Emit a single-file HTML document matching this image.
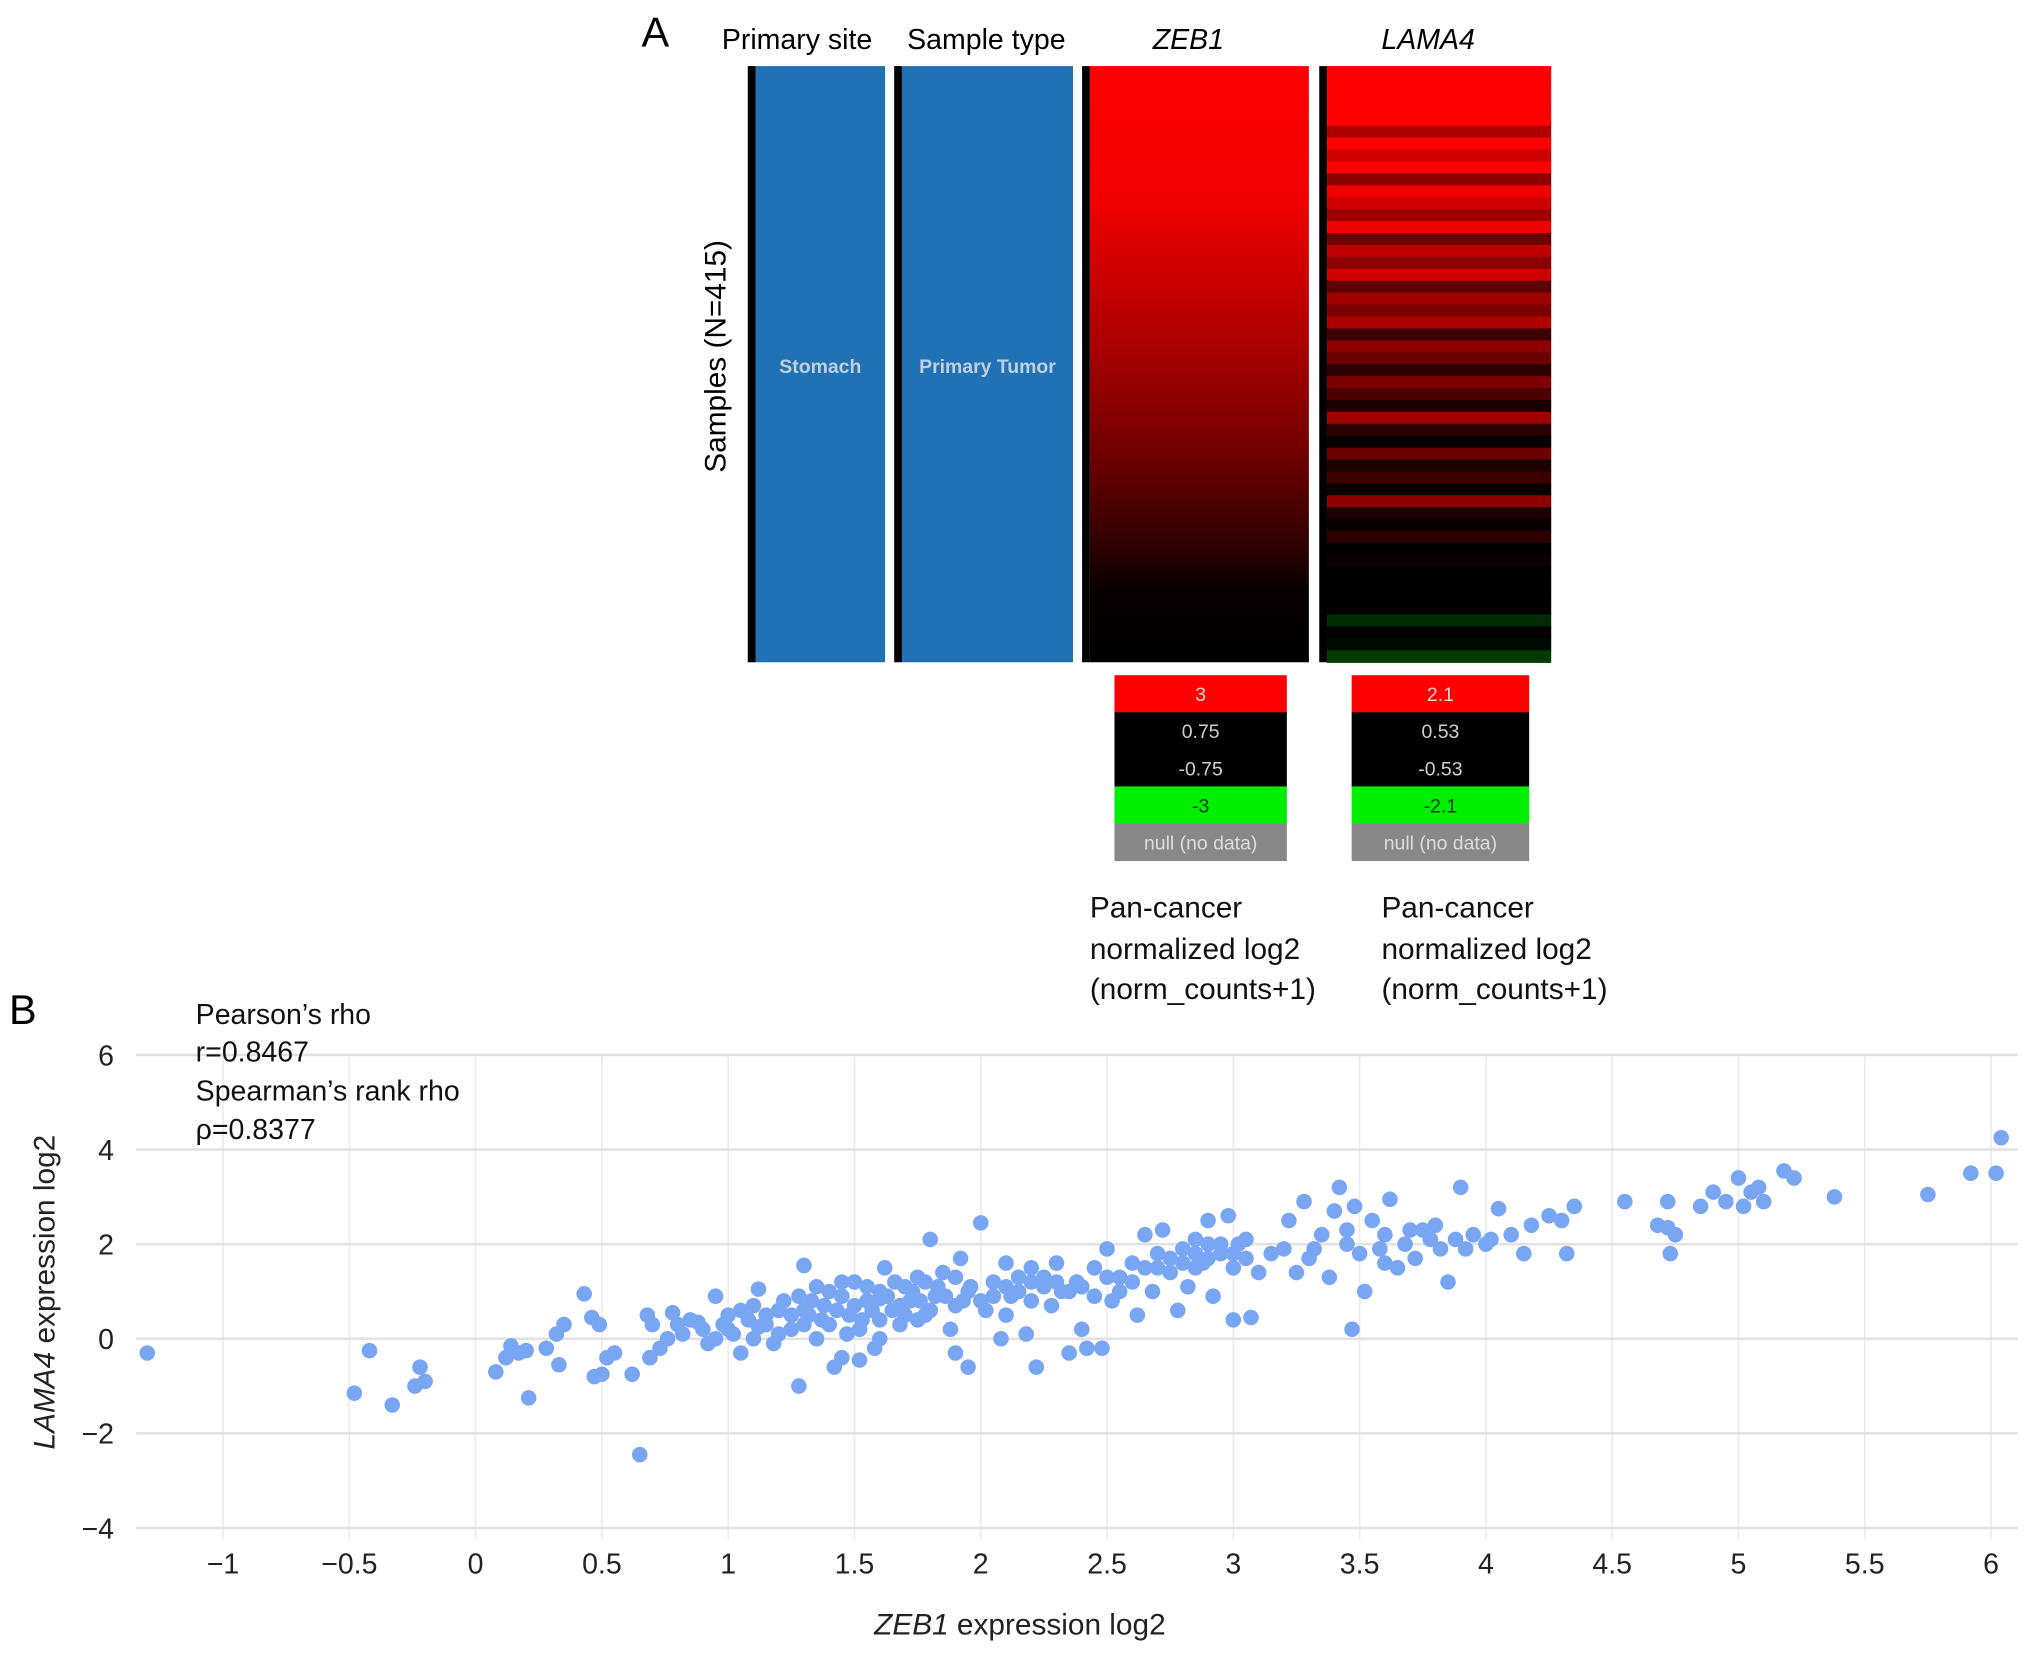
<!DOCTYPE html>
<html><head><meta charset="utf-8"><style>
html,body{margin:0;padding:0;background:#fff;}
svg{display:block;font-family:"Liberation Sans",Arial,sans-serif;}
</style></head><body>
<svg id="fig" width="2032" height="1655" viewBox="0 0 1568 1277" preserveAspectRatio="none" xmlns="http://www.w3.org/2000/svg">
<defs>
<linearGradient id="zebGrad" x1="0" y1="0" x2="0" y2="1">
<stop offset="0" stop-color="#ff0000"/><stop offset="0.22" stop-color="#f20000"/>
<stop offset="0.45" stop-color="#b00000"/><stop offset="0.65" stop-color="#700000"/>
<stop offset="0.8" stop-color="#300000"/><stop offset="0.88" stop-color="#080000"/><stop offset="1" stop-color="#000"/>
</linearGradient>
</defs>
<text x="495" y="36" font-size="32">A</text>
<text x="557" y="38" font-size="22">Primary site</text>
<text x="700" y="38" font-size="22">Sample type</text>
<text x="917" y="38" font-size="22" font-style="italic" text-anchor="middle">ZEB1</text>
<text x="1102" y="38" font-size="22" font-style="italic" text-anchor="middle">LAMA4</text>
<text transform="translate(560,275) rotate(-90)" font-size="23" text-anchor="middle">Samples (N=415)</text>
<g>
<rect x="577" y="51" width="6" height="460" fill="#000"/>
<rect x="583" y="51" width="100" height="460" fill="#2171b5"/>
<text x="633" y="288" font-size="15" font-weight="bold" fill="#c0cfe0" text-anchor="middle">Stomach</text>
</g>
<g>
<rect x="690" y="51" width="6" height="460" fill="#000"/>
<rect x="696" y="51" width="132" height="460" fill="#2171b5"/>
<text x="762" y="288" font-size="15" font-weight="bold" fill="#c0cfe0" text-anchor="middle">Primary Tumor</text>
</g>
<g>
<rect x="835" y="51" width="6" height="460" fill="#000"/>
<rect x="841" y="51" width="169" height="460" fill="url(#zebGrad)"/>
</g>
<g id="lama4">
<rect x="1018" y="51" width="6" height="460" fill="#000"/>
</g>
<g id="leg1"></g>
<g id="leg2"></g>
<text font-size="23" fill="#111"><tspan x="841" y="708">Pan-cancer</tspan><tspan x="841" y="740">normalized log2</tspan><tspan x="841" y="771">(norm_counts+1)</tspan></text>
<text font-size="23" fill="#111"><tspan x="1066" y="708">Pan-cancer</tspan><tspan x="1066" y="740">normalized log2</tspan><tspan x="1066" y="771">(norm_counts+1)</tspan></text>

<text x="7" y="790" font-size="32">B</text>
<g id="grid"></g>
<g id="pts"></g>
<g font-size="22" fill="#111">
<text x="151" y="790">Pearson’s rho</text>
<text x="151" y="819">r=0.8467</text>
<text x="151" y="849">Spearman’s rank rho</text>
<text x="151" y="879">ρ=0.8377</text>
</g>
<text x="787" y="1261" font-size="23" text-anchor="middle" fill="#222"><tspan font-style="italic">ZEB1</tspan> expression log2</text>
<text transform="translate(42,997) rotate(-90)" font-size="23" text-anchor="middle" fill="#222"><tspan font-style="italic">LAMA4</tspan> expression log2</text>
</svg>
<script>
const NS="http://www.w3.org/2000/svg";
const lamaRows=[2.1,2.1,2.1,2.1,2.1,1.6,2.1,1.8,2.1,1.4,2.0,1.8,1.5,2.0,1.2,1.7,1.4,1.8,1.1,1.5,1.3,1.6,0.9,1.4,1.2,0.8,1.3,1.0,0.7,1.5,0.8,0.6,1.2,0.7,0.9,0.6,1.4,0.7,0.6,0.8,0.5,0.6,0.5,0.4,0.3,0.2,-0.8,0.1,-0.6,-0.9];
const legend1Labels=["3","0.75","-0.75","-3","null (no data)"];
const legend2Labels=["2.1","0.53","-0.53","-2.1","null (no data)"];
const xTicks=[-1,-0.5,0,0.5,1,1.5,2,2.5,3,3.5,4,4.5,5,5.5,6];
const yTicks=[-4,-2,0,2,4,6];
const xVals=[-1.3,-0.48,-0.42,-0.33,-0.24,-0.22,-0.2,0.08,0.12,0.14,0.17,0.2,0.21,0.28,0.32,0.33,0.35,0.43,0.46,0.47,0.49,0.5,0.52,0.55,0.62,0.65,0.68,0.69,0.7,0.73,0.76,0.78,0.8,0.82,0.85,0.9,0.92,0.95,0.98,1.0,1.02,1.05,1.08,1.1,1.1,1.12,1.15,1.18,1.2,1.22,1.25,1.28,1.28,1.3,1.32,1.35,1.35,1.38,1.4,1.42,1.45,1.45,1.48,1.5,1.52,1.55,1.58,1.6,1.62,1.65,1.68,1.7,1.72,1.75,1.78,1.8,1.82,1.85,1.88,1.9,1.9,1.92,1.95,1.95,2.0,2.02,2.05,2.08,2.1,2.12,2.15,2.18,2.2,2.22,2.25,2.28,2.3,2.32,2.35,2.38,2.4,2.42,2.45,2.48,2.5,2.52,2.55,2.6,2.62,2.65,2.68,2.7,2.72,2.75,2.78,2.8,2.82,2.85,2.88,2.9,2.92,2.95,2.98,3.0,3.0,3.02,3.05,3.07,3.1,3.15,3.2,3.22,3.25,3.28,3.32,3.35,3.38,3.4,3.42,3.45,3.47,3.48,3.5,3.52,3.55,3.58,3.6,3.62,3.65,3.68,3.72,3.75,3.78,3.8,3.82,3.85,3.88,3.9,3.92,3.95,4.0,4.02,4.05,4.1,4.15,4.18,4.25,4.3,4.32,4.35,4.55,4.68,4.72,4.73,4.75,4.72,4.85,4.9,4.95,5.0,5.02,5.05,5.08,5.1,5.18,5.22,5.38,5.75,5.92,6.02,6.04,
1.0,1.05,1.15,1.2,1.25,1.3,1.33,1.37,1.4,1.43,1.47,1.5,1.53,1.55,1.57,1.6,1.63,1.66,1.68,1.7,1.73,1.76,1.78,1.8,1.83,1.86,1.9,1.93,1.96,2.0,2.05,2.1,2.15,2.2,2.25,2.3,2.35,2.4,2.45,2.5,2.55,2.6,2.65,2.7,2.75,2.8,2.85,2.9,2.95,3.0,3.05,2.9,2.85,3.3,3.45,3.6,3.7,1.45,1.3,1.6,1.75,2.1,2.2,0.95,0.88,1.12,1.6,1.52];
const yVals=[-0.3,-1.15,-0.25,-1.4,-1.0,-0.6,-0.9,-0.7,-0.4,-0.15,-0.3,-0.25,-1.25,-0.2,0.1,-0.55,0.3,0.95,0.45,-0.8,0.3,-0.75,-0.4,-0.3,-0.75,-2.45,0.5,-0.4,0.3,-0.2,0.0,0.55,0.3,0.1,0.4,0.2,-0.1,0.9,0.3,0.5,0.1,-0.3,0.4,0.0,0.7,1.05,0.3,-0.1,0.6,0.8,0.2,-1.0,0.9,1.55,0.5,0.0,1.1,0.7,0.3,-0.6,0.9,-0.4,0.5,1.2,0.2,0.8,-0.2,1.0,1.5,0.6,0.3,1.1,0.8,1.3,0.5,2.1,0.9,1.4,0.2,0.7,-0.3,1.7,1.0,-0.6,2.45,0.6,1.2,0.0,1.6,0.9,1.3,0.1,1.5,-0.6,1.1,0.7,1.6,1.0,-0.3,1.2,0.2,-0.2,1.5,-0.2,1.9,0.8,1.3,1.6,0.5,2.2,1.0,1.8,2.3,1.4,0.6,1.9,1.1,2.1,1.6,2.5,0.9,1.8,2.6,0.4,1.5,2.0,1.7,0.45,1.4,1.8,1.9,2.5,1.4,2.9,1.9,2.2,1.3,2.7,3.2,2.3,0.2,2.8,1.8,1.0,2.5,1.9,2.2,2.95,1.5,2.0,1.7,2.3,2.1,2.4,1.9,1.2,2.1,3.2,1.9,2.2,2.0,2.1,2.75,2.2,1.8,2.4,2.6,2.5,1.8,2.8,2.9,2.4,2.9,1.8,2.2,2.35,2.8,3.1,2.9,3.4,2.8,3.1,3.2,2.9,3.55,3.4,3.0,3.05,3.5,3.5,4.25,
0.2,0.6,0.5,0.1,0.5,0.3,0.8,0.4,1.0,0.6,0.1,0.7,0.4,1.1,0.6,0.4,0.9,1.2,0.7,0.5,1.0,0.8,1.2,0.6,1.1,0.9,1.3,0.8,1.1,0.8,0.9,1.1,1.0,1.2,1.3,1.2,1.0,1.1,0.9,1.3,1.0,1.2,1.5,1.5,1.7,1.6,1.8,1.7,2.0,1.8,2.1,2.0,1.5,1.7,2.0,1.6,2.3,1.2,0.6,0.85,0.4,0.5,0.8,0.0,0.35,0.25,0.0,-0.45];
const X0=367, XU=194.9, Y0=1033, YU=36.5;
const sx=v=>X0+v*XU, sy=v=>Y0-v*YU;
function el(tag,attrs,parent){const e=document.createElementNS(NS,tag);for(const k in attrs)e.setAttribute(k,attrs[k]);parent.appendChild(e);return e;}
// LAMA4 heatmap
const lama=document.getElementById('lama4');
const rh=460/lamaRows.length;
function heatColor(v,lo,hi){
  if(v>=lo){const t=Math.min(1,(v-lo)/(hi-lo));return 'rgb('+Math.round(255*t)+',0,0)';}
  if(v<=-lo){const t=Math.min(1,(-v-lo)/(hi-lo));return 'rgb(0,'+Math.round(255*t)+',0)';}
  return '#000';
}
lamaRows.forEach((v,i)=>{
  const r=el('rect',{x:1024,y:51+i*rh,width:173,height:rh+0.5,fill:heatColor(v,0.53,2.1)},lama);
  
  
});
// legends
const legFills=['#ff0000','#000','#000','#00ee00','#888'];
const legText=['#ffd0d0','#cfcfcf','#cfcfcf','#064006','#dcdcdc'];
function legend(g,x,w,labels){
  labels.forEach((t,i)=>{
    const y=521+i*28.6;
    const r=el('rect',{x:x,y:y,width:w,height:29,fill:legFills[i]},g);
    
    
    const tx=el('text',{x:x+w/2,y:y+20,'font-size':15,'text-anchor':'middle',fill:legText[i]},g);
    tx.textContent=t;
    
    
  });
}
legend(document.getElementById('leg1'),860,133,legend1Labels);
legend(document.getElementById('leg2'),1043,137,legend2Labels);
// grid & ticks
const grid=document.getElementById('grid');
xTicks.forEach(v=>{
  const l=el('line',{x1:sx(v),x2:sx(v),y1:815,y2:1188,stroke:'#e6ecf4','stroke-width':1.2},grid);
  
  
  const t=el('text',{x:sx(v),y:1214,'font-size':22,'text-anchor':'middle',fill:'#222'},grid);
  t.textContent=String(v).replace('-','−');
  
  
});
yTicks.forEach(v=>{
  const l=el('line',{x1:105,x2:1557,y1:sy(v),y2:sy(v),stroke:'#e2e2e2','stroke-width':2},grid);
  
  
  const t=el('text',{x:88,y:sy(v)+8,'font-size':22,'text-anchor':'end',fill:'#222'},grid);
  t.textContent=String(v).replace('-','−');
  
  
});
// points
const pts=document.getElementById('pts');
xVals.forEach((xv,i)=>{
  const c=el('circle',{cx:sx(xv),cy:sy(yVals[i]),r:6,fill:'#78a6f2'},pts);
  
  
});
</script>
</body></html>
